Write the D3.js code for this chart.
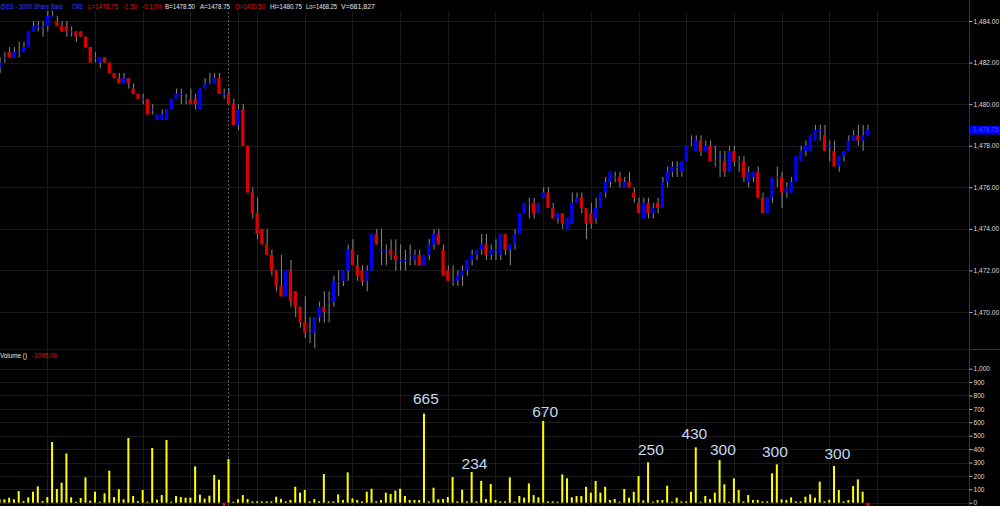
<!DOCTYPE html>
<html><head><meta charset="utf-8">
<script src="https://cdn.jsdelivr.net/npm/d3@7"></script>
<style>html,body{margin:0;padding:0;background:#000;}svg{display:block;}</style>
</head><body>
<svg id="chart" width="1000" height="506"></svg>
<script>
// ---- data (entry e sits on bar slot e-1) ----
const opens = [1481.75,1482.25,1482.5,1482.25,1482.5,1482.5,1482.75,1483.5,1483.75,1483.75,1483.75,1484.25,1484.0,1483.75,1483.75,1483.5,1483.5,1483.5,1483.25,1482.75,1482.25,1482.0,1482.25,1482.0,1481.5,1481.25,1481.0,1481.25,1480.75,1480.5,1480.25,1480.25,1479.75,1479.25,1479.25,1479.25,1479.75,1480.25,1480.5,1480.25,1480.25,1480.25,1479.75,1480.75,1481.0,1481.0,1481.25,1480.5,1480.5,
1480.0,1479.0,1479.75,1478.0,1475.75,1474.75,1474.0,1473.25,1472.75,1472.0,1471.25,1470.75,1472.0,1471.0,1470.25,1469.5,1469.0,1469.0,1469.75,1470.25,1470.5,1470.5,1471.5,1471.5,1472.0,1473.0,1472.25,1472.0,1471.5,1472.0,1473.75,1473.0,1473.0,1473.0,1472.75,1472.5,1472.5,1472.75,1472.5,1472.75,1472.25,1472.75,
1473.25,1473.75,1473.0,1472.0,1471.5,1471.5,1471.75,1472.0,1472.5,1472.75,1473.0,1473.25,1472.75,1473.0,1472.75,1473.75,1473.0,1473.25,1473.75,1474.75,1475.25,1475.25,1474.75,1475.5,1475.75,1475.0,1474.5,1474.75,1474.0,1474.25,1475.25,1475.5,1475.0,1474.75,1474.5,1475.0,1475.75,1476.25,1476.5,1476.5,1476.0,1476.25,1475.75,
1475.25,1474.5,1475.25,1474.75,1475.25,1475.0,1476.25,1476.75,1477.0,1476.75,1477.25,1478.25,1477.75,1478.25,1477.75,1478.0,1477.25,1477.5,1477.25,1476.75,1477.75,1477.25,1477.25,1476.25,1476.5,1476.75,1475.5,1474.75,1475.5,1476.5,1476.5,1475.75,1475.75,1476.25,1477.25,1477.75,1477.75,1478.25,1478.75,1478.5,1478.0,1477.75,1477.0,1477.5,1477.75,1478.25,1478.5,1478.25,1478.5];
const highs = [1482.25,1482.5,1482.75,1482.75,1483.0,1483.0,1483.5,1484.0,1484.0,1484.0,1484.5,1484.5,1484.25,1484.0,1484.0,1483.75,1483.5,1483.5,1483.25,1482.75,1482.5,1482.25,1482.25,1482.0,1481.5,1481.5,1481.5,1481.25,1481.0,1480.5,1480.5,1480.25,1480.0,1479.5,1479.75,1479.75,1480.25,1480.75,1480.75,1480.5,1480.75,1480.5,1480.75,1481.25,1481.5,1481.5,1481.5,1480.75,1480.75,
1480.25,1480.0,1480.0,1478.0,1476.0,1475.5,1474.0,1474.0,1473.0,1472.0,1472.75,1472.0,1472.5,1471.0,1470.25,1470.75,1469.75,1469.75,1470.5,1471.0,1471.0,1471.75,1472.0,1472.0,1473.25,1473.5,1472.75,1472.25,1472.25,1473.75,1474.0,1474.0,1473.25,1473.5,1473.5,1473.25,1473.0,1473.25,1473.0,1473.0,1472.75,1473.5,
1474.0,1474.0,1473.25,1472.25,1472.25,1472.0,1472.25,1472.5,1473.0,1473.0,1473.75,1473.75,1473.25,1473.5,1473.75,1473.75,1473.25,1474.0,1474.75,1475.25,1475.5,1475.5,1475.25,1476.0,1476.0,1475.25,1474.75,1474.75,1474.5,1475.75,1475.75,1475.75,1475.0,1475.25,1475.5,1475.75,1476.5,1476.75,1476.75,1476.75,1476.5,1476.75,1476.0,
1475.5,1475.5,1475.5,1475.25,1475.5,1476.5,1477.0,1477.25,1477.25,1477.25,1478.0,1478.5,1478.5,1478.5,1478.25,1478.25,1478.0,1477.75,1477.75,1478.0,1478.0,1477.5,1477.5,1477.0,1476.75,1477.0,1475.75,1475.5,1476.5,1477.0,1476.75,1476.25,1476.5,1477.5,1478.0,1478.25,1478.5,1479.0,1479.0,1479.0,1478.25,1478.25,1477.5,1477.75,1478.5,1478.75,1479.0,1479.0,1479.0];
const lows = [1481.5,1482.0,1482.25,1482.25,1482.25,1482.5,1482.75,1483.5,1483.5,1483.25,1483.5,1484.25,1483.75,1483.5,1483.25,1483.25,1483.0,1483.25,1482.75,1482.0,1482.0,1481.75,1482.0,1481.5,1481.25,1481.0,1481.0,1480.75,1480.5,1480.25,1480.0,1479.5,1479.5,1479.25,1479.25,1479.25,1479.75,1480.25,1480.0,1480.0,1480.0,1479.75,1479.75,1480.75,1481.0,1481.0,1480.5,1480.25,1480.0,
1479.0,1478.75,1478.0,1475.75,1474.5,1473.5,1473.25,1472.75,1471.75,1471.0,1470.75,1470.75,1470.25,1469.75,1469.25,1468.75,1468.5,1468.25,1469.5,1469.5,1469.5,1470.25,1470.75,1471.25,1471.5,1472.25,1471.5,1471.25,1471.0,1472.0,1473.25,1472.25,1472.25,1472.5,1472.0,1472.0,1472.0,1472.25,1472.25,1472.25,1472.25,1472.5,
1473.0,1473.25,1471.75,1471.5,1471.25,1471.25,1471.25,1471.75,1472.25,1472.5,1472.75,1472.5,1472.5,1472.5,1472.5,1472.75,1472.25,1473.0,1473.75,1474.75,1474.5,1474.5,1474.75,1475.5,1475.0,1474.5,1474.25,1474.0,1474.0,1474.25,1475.25,1474.75,1473.5,1474.0,1474.25,1475.0,1475.5,1476.0,1476.25,1476.0,1476.0,1476.0,1475.25,
1474.75,1474.5,1474.5,1474.5,1474.75,1475.0,1476.0,1476.5,1476.5,1476.5,1477.25,1478.0,1477.75,1477.5,1477.75,1477.25,1477.0,1476.5,1476.5,1476.75,1477.0,1476.75,1476.25,1476.0,1476.25,1475.5,1474.75,1474.75,1475.25,1476.0,1475.0,1475.5,1475.75,1476.25,1477.25,1477.5,1477.75,1478.25,1478.25,1477.75,1477.25,1477.0,1476.75,1477.25,1477.75,1478.25,1478.0,1477.75,1478.5];
const closes = [1482.0,1482.25,1482.25,1482.5,1482.5,1482.75,1483.5,1483.75,1483.75,1483.75,1484.25,1484.25,1483.75,1483.5,1483.5,1483.5,1483.25,1483.25,1482.75,1482.0,1482.25,1482.25,1482.0,1481.5,1481.25,1481.0,1481.25,1481.0,1480.5,1480.25,1480.25,1479.5,1479.75,1479.5,1479.5,1479.75,1480.25,1480.5,1480.5,1480.25,1480.0,1480.0,1480.75,1481.0,1481.0,1481.25,1480.5,1480.5,1480.0,
1479.0,1479.75,1478.0,1475.75,1474.75,1473.75,1473.25,1472.75,1472.0,1471.25,1470.75,1472.0,1470.5,1470.25,1469.5,1469.0,1469.0,1469.75,1470.25,1470.0,1470.5,1471.5,1471.5,1472.0,1473.0,1472.25,1471.75,1471.5,1472.0,1473.75,1473.25,1473.0,1473.0,1472.75,1472.5,1472.5,1472.5,1472.75,1472.75,1472.25,1472.75,1473.25,
1473.75,1473.25,1471.75,1471.5,1471.5,1471.75,1472.0,1472.5,1472.75,1473.0,1473.25,1472.75,1473.0,1473.0,1473.75,1473.0,1473.25,1473.75,1474.75,1475.25,1475.25,1474.75,1475.25,1475.75,1475.0,1474.5,1474.75,1474.25,1474.5,1475.25,1475.5,1475.0,1474.25,1474.25,1475.0,1475.75,1476.25,1476.75,1476.5,1476.25,1476.25,1476.0,1475.5,
1474.75,1475.25,1474.75,1475.0,1475.0,1476.25,1476.75,1477.0,1477.0,1477.25,1478.0,1478.25,1478.25,1477.75,1478.0,1477.25,1477.25,1477.5,1476.75,1477.75,1477.25,1477.25,1476.5,1476.75,1476.75,1475.5,1474.75,1475.5,1476.5,1476.5,1475.75,1476.0,1476.25,1477.5,1477.75,1478.0,1478.5,1478.75,1478.75,1477.75,1478.0,1477.0,1477.5,1477.75,1478.25,1478.5,1478.25,1478.5,1478.75];
const volumes = [25,25,37,25,87,12,40,82,122,12,42,453,102,149,368,40,7,35,189,15,82,7,70,239,42,100,25,483,50,12,95,7,408,22,57,468,7,50,42,37,37,271,60,30,52,207,172,0,326,7,25,57,27,10,10,10,10,10,45,27,10,20,119,75,95,10,27,10,214,10,10,62,20,226,32,20,10,82,104,10,20,75,65,90,104,50,20,20,20,665,10,112,25,27,42,192,10,97,10,229,10,162,27,139,20,10,10,189,7,50,37,144,57,40,610,10,10,7,211,182,40,50,50,119,75,162,75,119,20,27,7,102,37,82,199,17,301,7,20,20,127,7,37,10,10,82,413,7,50,27,75,318,137,7,182,95,10,57,20,20,10,10,219,286,25,20,40,10,10,45,62,37,157,10,22,274,95,10,20,124,174,82,0];
const redVolumeEntries = [47, 182];
const priceTicks = [1470,1472,1474,1476,1478,1480,1482,1484];
const volumeTicks = [0,100,200,300,400,500,600,700,800,900,1000];
const gridSlots = [9,19,29,39,49,53,63,73,83,93,103,113,123,133,143,153,163,173,183];
const sessionSlot = 47;
const annotations = [
  {text:"665", slot:88.4, level:737},
  {text:"234", slot:98.6, level:249},
  {text:"670", slot:113.4, level:640},
  {text:"250", slot:135.6, level:356},
  {text:"430", slot:144.7, level:475},
  {text:"300", slot:150.7, level:356},
  {text:"300", slot:161.6, level:339},
  {text:"300", slot:174.7, level:324}
];
const header = [
  {t:"@ES - 5000 Share Bars", x:0, w:63, c:"#3a3aff"},
  {t:"CME", x:72, w:11, c:"#3a3aff"},
  {t:"L=1478.75", x:88, w:30, c:"#e01010"},
  {t:"-1.50", x:123, w:14, c:"#e01010"},
  {t:"-0.10%", x:142, w:20, c:"#e01010"},
  {t:"B=1478.50", x:165, w:30, c:"#e6e6e6"},
  {t:"A=1478.75", x:200, w:30, c:"#e6e6e6"},
  {t:"O=1480.50", x:235, w:30, c:"#e01010"},
  {t:"Hi=1480.75", x:270, w:32, c:"#e6e6e6"},
  {t:"Lo=1468.25", x:306, w:31, c:"#e6e6e6"},
  {t:"V=681,827", x:341, w:34, c:"#e6e6e6"}
];
const lastPrice = 1478.75;

// ---- scales ----
const svg = d3.select("#chart");
const FONT = "'Liberation Sans', Arial, sans-serif";
const x = d3.scaleLinear().domain([0,181]).range([4.4,867.4]);
const xe = e => x(e-1);
const y = d3.scaleLinear().domain([1470,1484]).range([312,21]);
const yv = d3.scaleLinear().domain([0,1000]).range([502.7,368.7]);
const axisX = 969;
const GRID = "#1b1b1b";

svg.append("rect").attr("width",1000).attr("height",506).attr("fill","#000");

// grid
const g = svg.append("g");
g.selectAll(".hp").data(priceTicks).join("line")
  .attr("x1",0).attr("x2",axisX).attr("y1",d=>Math.round(y(d))+0.5).attr("y2",d=>Math.round(y(d))+0.5)
  .attr("stroke",GRID).attr("stroke-width",1);
g.selectAll(".hv").data(volumeTicks).join("line")
  .attr("x1",0).attr("x2",axisX).attr("y1",d=>Math.round(yv(d))+0.5).attr("y2",d=>Math.round(yv(d))+0.5)
  .attr("stroke",GRID).attr("stroke-width",1);
g.selectAll(".vg").data(gridSlots).join("line")
  .attr("x1",d=>Math.round(x(d))+0.5).attr("x2",d=>Math.round(x(d))+0.5)
  .attr("y1",12).attr("y2",506).attr("stroke",GRID).attr("stroke-width",1);
g.append("line").attr("x1",Math.round(x(sessionSlot))+0.5).attr("x2",Math.round(x(sessionSlot))+0.5)
  .attr("y1",12).attr("y2",506).attr("stroke","#5e5e5e").attr("stroke-width",1).attr("stroke-dasharray","2,2");
g.append("line").attr("x1",0).attr("x2",axisX).attr("y1",349.5).attr("y2",349.5).attr("stroke","#151515");

// price bars
const bars = svg.append("g");
const idx = d3.range(opens.length);
const bw = 3.2;
bars.selectAll(".wick").data(idx).join("line")
  .attr("x1",e=>xe(e)+0.5).attr("x2",e=>xe(e)+0.5)
  .attr("y1",e=>y(highs[e])).attr("y2",e=>y(lows[e]))
  .attr("stroke","#8a8a8a").attr("stroke-width",1);
bars.selectAll(".body").data(idx).join("rect")
  .attr("x",e=>xe(e)-bw/2).attr("width",bw)
  .attr("y",e=>y(Math.max(opens[e],closes[e])))
  .attr("height",e=>Math.max(1,Math.abs(y(opens[e])-y(closes[e]))))
  .attr("fill",e=>closes[e]<opens[e]?"#dd0000":"#0000ff");

// volume bars
svg.append("g").selectAll("rect").data(idx.filter(e=>!redVolumeEntries.includes(e))).join("rect")
  .attr("x",e=>xe(e)-1).attr("width",2)
  .attr("y",e=>yv(volumes[e])).attr("height",e=>Math.max(0,yv(0)-yv(volumes[e])))
  .attr("fill","#ffff00");
svg.append("g").selectAll("rect").data(redVolumeEntries).join("rect")
  .attr("x",e=>xe(e)-1).attr("width",2.5).attr("y",yv(0)).attr("height",4).attr("fill","#ff0000");

// annotations
svg.append("g").selectAll("text").data(annotations).join("text")
  .attr("x",d=>x(d.slot)).attr("y",d=>yv(d.level)).attr("text-anchor","middle")
  .attr("font-family",FONT).attr("font-size",15.5).attr("fill","#c4d8ee").text(d=>d.text);

// right axes
svg.append("line").attr("x1",axisX+0.5).attr("x2",axisX+0.5).attr("y1",0).attr("y2",506).attr("stroke","#b00000");
svg.append("line").attr("x1",axisX).attr("x2",1000).attr("y1",349.5).attr("y2",349.5).attr("stroke","#b00000");
const pa = svg.append("g").attr("transform",`translate(${axisX+0.5},0)`)
  .call(d3.axisRight(y).tickValues(priceTicks).tickFormat(d3.format(",.2f")).tickSize(3).tickPadding(1));
const va = svg.append("g").attr("transform",`translate(${axisX+0.5},0)`)
  .call(d3.axisRight(yv).tickValues(volumeTicks).tickFormat(d3.format(",")).tickSize(3).tickPadding(1));
[pa,va].forEach(a=>{
  a.select(".domain").remove();
  a.selectAll(".tick line").attr("stroke","#bdbdbd");
  a.selectAll(".tick text").attr("fill","#dcdcdc").attr("font-family",FONT).attr("font-size",6.6);
});
// last price box
svg.append("rect").attr("x",axisX+1).attr("y",y(lastPrice)-4.3).attr("width",31).attr("height",8.6).attr("fill","#0000ff");
svg.append("text").attr("x",axisX+4).attr("y",y(lastPrice)+2.3).attr("font-family",FONT).attr("font-size",6.6)
  .attr("fill","#4a4ae0").text(d3.format(",.2f")(lastPrice));

// header
svg.append("g").selectAll("text").data(header).join("text")
  .attr("x",d=>d.x).attr("y",8.8).attr("font-family",FONT).attr("font-size",6.4)
  .attr("textLength",d=>d.w).attr("lengthAdjust","spacingAndGlyphs")
  .attr("fill",d=>d.c).text(d=>d.t);
svg.append("text").attr("x",0).attr("y",357.8).attr("font-family",FONT).attr("font-size",6.8)
  .attr("textLength",27).attr("lengthAdjust","spacingAndGlyphs").attr("fill","#e6e6e6").text("Volume ()");
svg.append("text").attr("x",32).attr("y",357.8).attr("font-family",FONT).attr("font-size",6.8)
  .attr("textLength",25).attr("lengthAdjust","spacingAndGlyphs").attr("fill","#e01010").text("-3095.00");
</script>
</body></html>
